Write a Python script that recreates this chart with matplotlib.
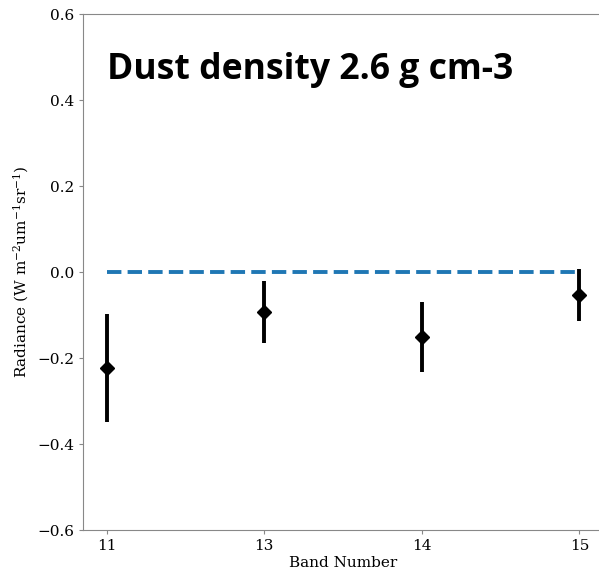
import numpy as np
import matplotlib
matplotlib.use("Agg")
import matplotlib.pyplot as plt

# Band radiance residuals with uncertainties
bands = ["11", "13", "14", "15"]
radiance = [-0.223, -0.093, -0.151, -0.053]
radiance_err = [0.125, 0.071, 0.081, 0.060]

plt.rcParams['font.family'] = 'DejaVu Serif'
plt.rcParams['mathtext.fontset'] = 'dejavuserif'

fig = plt.figure(figsize=(5.99, 5.74), dpi=100)
ax = fig.add_axes([83/599, 44/574, 520/599, 516/574])

x = np.arange(len(bands))
ax.plot([x[0], x[-1]], [0, 0], '--', color='tab:blue', linewidth=2.8)
ax.errorbar(x, radiance, yerr=radiance_err, fmt='D', color='black',
            ecolor='black', elinewidth=2.8, markersize=7, capsize=0)

ax.set_xlim(-0.15, 3.15)
ax.set_ylim(-0.6, 0.6)
ax.set_xticks(x)
ax.set_xticklabels(bands)
ax.set_yticks([-0.6, -0.4, -0.2, 0.0, 0.2, 0.4, 0.6])
ax.tick_params(labelsize=11, length=3, color='#888888')
for s in ax.spines.values():
    s.set_color('#888888')
ax.spines['right'].set_visible(False)

ax.set_xlabel('Band Number', fontsize=11, labelpad=2)
ax.set_ylabel(r'Radiance (W m$^{-2}$um$^{-1}$sr$^{-1}$)', fontsize=11)

fig.text(107/599, 1 - 79/574, 'Dust density 2.6 g cm-3', fontsize=25.6,
         fontweight='bold', family='Open Sans', ha='left', va='baseline')

fig.savefig('out.png', dpi=100)
